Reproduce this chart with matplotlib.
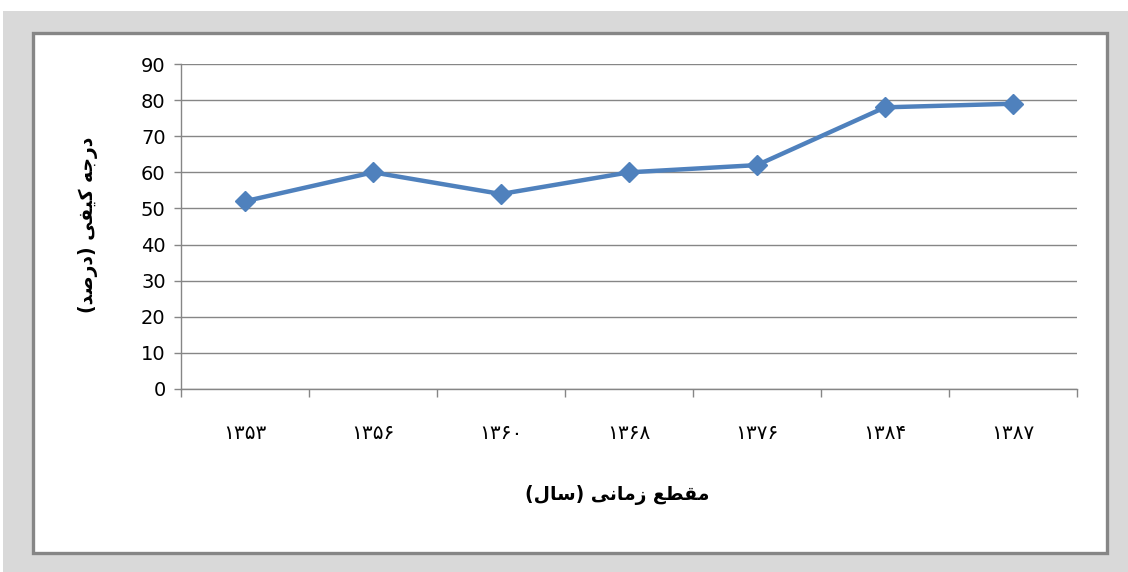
import matplotlib
matplotlib.use("Agg")
import matplotlib.pyplot as plt
from matplotlib.patches import Rectangle

# data
years = ["\u06f1\u06f3\u06f5\u06f3", "\u06f1\u06f3\u06f5\u06f6", "\u06f1\u06f3\u06f6\u06f0",
         "\u06f1\u06f3\u06f6\u06f8", "\u06f1\u06f3\u06f7\u06f6", "\u06f1\u06f3\u06f8\u06f4",
         "\u06f1\u06f3\u06f8\u06f7"]
quality = [52, 60, 54, 60, 62, 78, 79]
yticks = [0, 10, 20, 30, 40, 50, 60, 70, 80, 90]

# pre-shaped persian labels (visual order, presentation forms)
# "درجه کیفی (درصد)"
ylabel_txt = ("(" + "\ufeaa\ufebb\ufead\ufea9" + ")" + " "
              + "\ufbfd\ufed4\ufbff\ufb90" + " " + "\ufeea\ufe9f\ufead\ufea9")
# "مقطع زمانی (سال)"
xlabel_txt = ("(" + "\ufedd\ufe8e\ufeb3" + ")" + " "
              + "\ufbfd\ufee7\ufe8e\ufee3\ufeaf" + " " + "\ufeca\ufec4\ufed8\ufee3")

W, H = 1128, 572
fig = plt.figure(figsize=(W / 100, H / 100), dpi=100)
fig.patch.set_facecolor("#D9D9D9")

# white strips at top / left and white chart box with gray border
fig.add_artist(Rectangle((0, (H - 11) / H), 1, 11 / H, transform=fig.transFigure,
                         facecolor="white", edgecolor="none", zorder=0))
fig.add_artist(Rectangle((0, 0), 3 / W, 1, transform=fig.transFigure,
                         facecolor="white", edgecolor="none", zorder=0))
fig.add_artist(Rectangle((33 / W, (H - 553) / H), (1107 - 33) / W, (553 - 33) / H,
                         transform=fig.transFigure, facecolor="white",
                         edgecolor="#868686", linewidth=2.4, zorder=0))

ax = fig.add_axes([181 / W, (H - 389) / H, (1077 - 181) / W, (389 - 64) / H])
ax.set_facecolor("none")
ax.set_zorder(2)

x = list(range(len(years)))
ax.plot(x, quality, color="#4F81BD", linewidth=3.2, marker="D", markersize=10,
        markerfacecolor="#4F81BD", markeredgecolor="#4F81BD", zorder=3, clip_on=False)

ax.set_xlim(-0.5, len(years) - 0.5)
ax.set_ylim(0, 90)
ax.set_yticks(yticks)
ax.set_yticklabels([str(v) for v in yticks], fontsize=14, family="DejaVu Sans")
ax.grid(axis="y", color="#868686", linewidth=1.0)
ax.set_axisbelow(True)

# category boundaries as tick marks, labels at centers
ax.set_xticks([i - 0.5 for i in range(len(years) + 1)])
ax.set_xticklabels([])
ax.set_xticks(x, minor=True)
ax.set_xticklabels(years, minor=True, fontsize=14.5, family="DejaVu Sans")
ax.tick_params(axis="x", which="minor", length=0, pad=25)
ax.tick_params(axis="x", which="major", length=6, color="#868686", width=1)
ax.tick_params(axis="y", length=5, color="#868686", width=1, pad=6)

for s in ["top", "right"]:
    ax.spines[s].set_visible(False)
for s in ["left", "bottom"]:
    ax.spines[s].set_color("#868686")
    ax.spines[s].set_linewidth(1.0)

fig.text(617 / W, (H - 495) / H, xlabel_txt, ha="center", va="center",
         fontsize=13.5, fontweight="bold", family="DejaVu Sans")
fig.text(88 / W, (H - 225) / H, ylabel_txt, ha="center", va="center", rotation=90,
         fontsize=13.5, fontweight="bold", family="DejaVu Sans")

fig.savefig("out.png", dpi=100, facecolor=fig.get_facecolor())
